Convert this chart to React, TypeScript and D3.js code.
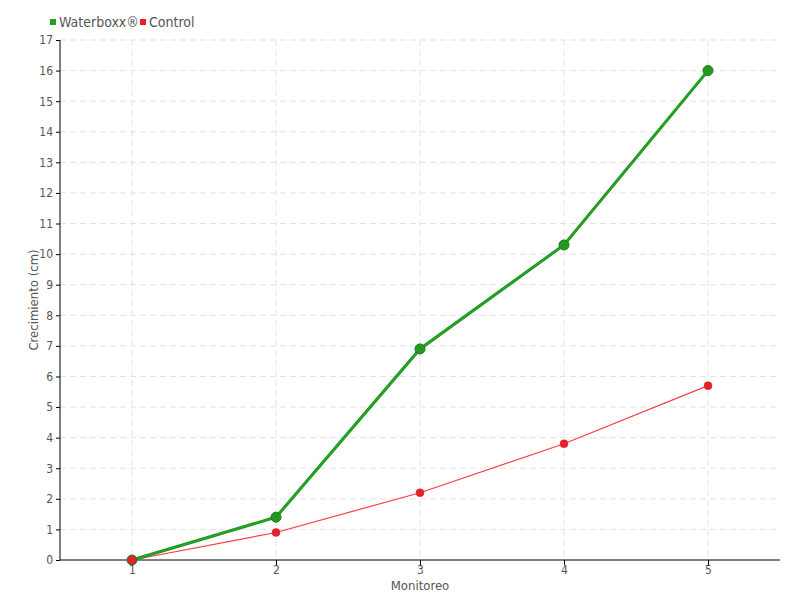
import React, { useEffect, useRef } from 'react';
import * as d3 from 'd3';

const monitoreos = [1, 2, 3, 4, 5];
const waterboxx = [0, 1.4, 6.9, 10.3, 16.0];
const control = [0, 0.9, 2.2, 3.8, 5.7];
const yTicks = d3.range(0, 18);

const FONT = '"DejaVu Sans Condensed", "DejaVu Sans", sans-serif';

const App: React.FC = () => {
  const svgRef = useRef<SVGSVGElement>(null);

  useEffect(() => {
    if (!svgRef.current) return;
    const svg = d3.select(svgRef.current);
    svg.selectAll('*').remove();

    const left = 60, right = 780, top = 40, bottom = 560;
    const x = d3.scaleLinear().domain([0.5, 5.5]).range([left, right]);
    const y = d3.scaleLinear().domain([0, 17]).range([bottom, top]);

    // grid
    svg.append('g')
      .selectAll('line')
      .data(yTicks.slice(1))
      .enter().append('line')
      .attr('x1', left).attr('x2', right)
      .attr('y1', d => y(d)).attr('y2', d => y(d))
      .attr('stroke', '#e2e2e2').attr('stroke-dasharray', '6,4');
    svg.append('g')
      .selectAll('line')
      .data(monitoreos)
      .enter().append('line')
      .attr('x1', d => x(d)).attr('x2', d => x(d))
      .attr('y1', top).attr('y2', bottom)
      .attr('stroke', '#e2e2e2').attr('stroke-dasharray', '6,4');

    // axes
    const yAxis = svg.append('g')
      .attr('transform', `translate(${left},0)`)
      .call(d3.axisLeft(y).tickValues(yTicks).tickSize(4).tickPadding(3).tickFormat(d3.format('d')));
    const xAxis = svg.append('g')
      .attr('transform', `translate(0,${bottom})`)
      .call(d3.axisBottom(x).tickValues(monitoreos).tickSize(5).tickPadding(0).tickFormat(d3.format('d')));
    xAxis.select('.domain').attr('d', `M${left},0H${right}`);
    yAxis.select('.domain').attr('d', `M0,${top}V${bottom}`);
    [xAxis, yAxis].forEach(a => {
      a.selectAll('.domain').attr('stroke', '#000');
      a.selectAll('.tick line').attr('stroke', '#000');
      a.selectAll('.tick text')
        .attr('fill', '#555')
        .style('font-family', FONT)
        .style('font-size', '12px');
    });

    svg.append('text')
      .attr('x', x(3)).attr('y', 590)
      .attr('text-anchor', 'middle')
      .attr('fill', '#555')
      .style('font-family', FONT).style('font-size', '13px')
      .text('Monitoreo');
    svg.append('text')
      .attr('transform', `translate(38,${(top + bottom) / 2}) rotate(-90)`)
      .attr('text-anchor', 'middle')
      .attr('fill', '#555')
      .style('font-family', FONT).style('font-size', '13px')
      .text('Crecimiento (cm)');

    const line = d3.line<number>().x((_, i) => x(monitoreos[i])).y(d => y(d));

    // control series
    svg.append('path').datum(control)
      .attr('d', line).attr('fill', 'none')
      .attr('stroke', '#ff3b44').attr('stroke-width', 1.2);

    // waterboxx series
    svg.append('path').datum(waterboxx)
      .attr('d', line).attr('fill', 'none')
      .attr('stroke', '#1b8a1b').attr('stroke-width', 3);
    svg.append('path').datum(waterboxx)
      .attr('d', line).attr('fill', 'none')
      .attr('stroke', '#22aa22').attr('stroke-width', 1.6);
    svg.append('g').selectAll('circle')
      .data(waterboxx).enter().append('circle')
      .attr('cx', (_, i) => x(monitoreos[i])).attr('cy', d => y(d))
      .attr('r', 5)
      .attr('fill', '#229a22').attr('stroke', '#187a18').attr('stroke-width', 1);

    svg.append('g').selectAll('circle')
      .data(control).enter().append('circle')
      .attr('cx', (_, i) => x(monitoreos[i])).attr('cy', d => y(d))
      .attr('r', 4)
      .attr('fill', '#e8202c').attr('stroke', '#d81a26').attr('stroke-width', 0.5);

    // legend
    const legend = [
      { name: 'Waterboxx®', color: '#22a022', x: 50 },
      { name: 'Control', color: '#ee1c2a', x: 140 },
    ];
    const lg = svg.append('g').selectAll('g').data(legend).enter().append('g')
      .attr('transform', d => `translate(${d.x},0)`);
    lg.append('rect').attr('x', 0).attr('y', 19).attr('width', 6).attr('height', 6)
      .attr('fill', d => d.color);
    lg.append('text').attr('x', 9).attr('y', 27)
      .attr('fill', '#555')
      .style('font-family', FONT).style('font-size', '14px')
      .text(d => d.name);
  }, []);

  return (
    <svg ref={svgRef} width={800} height={600} style={{ position: 'absolute', left: 0, top: 0, background: '#fff' }} />
  );
};

export default App;
